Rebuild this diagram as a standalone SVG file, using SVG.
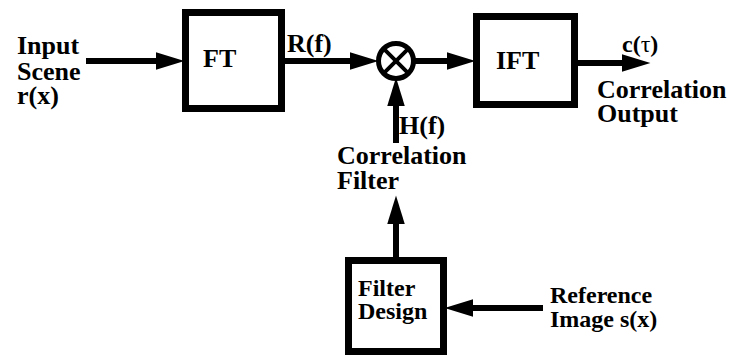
<svg xmlns="http://www.w3.org/2000/svg" width="733" height="356" viewBox="0 0 733 356" font-family="'Liberation Serif', 'Times New Roman', serif">
<style>
.box{fill:#fff;stroke:#000;stroke-width:7}
.ln{stroke:#000;stroke-width:6;fill:none}
.t{font-family:'Liberation Serif','Times New Roman',serif;font-weight:bold;font-size:26px;fill:#000}
.sm{font-size:24px}
</style>
<defs>
<marker id="ah" markerUnits="userSpaceOnUse" markerWidth="30" markerHeight="20" viewBox="0 -9 27 18" refX="4" refY="0" orient="auto">
<path d="M0,-8 L26,0 L0,8 z" fill="#000"/>
</marker>
</defs>
<rect width="733" height="356" fill="#fff"/>
<g id="connectors">
<line class="ln" x1="86" y1="61" x2="160" y2="61" marker-end="url(#ah)"/>
<line class="ln" x1="285" y1="61" x2="354" y2="61" marker-end="url(#ah)"/>
<line class="ln" x1="414" y1="61" x2="451" y2="61" marker-end="url(#ah)"/>
<line class="ln" x1="578" y1="63" x2="626" y2="63" marker-end="url(#ah)"/>
<line class="ln" x1="396" y1="143" x2="396" y2="102" marker-end="url(#ah)"/>
<line class="ln" x1="396" y1="257" x2="396" y2="220" marker-end="url(#ah)"/>
<line class="ln" x1="543" y1="308" x2="469" y2="308" marker-end="url(#ah)"/>
</g>
<g id="input-label" class="t">
<text x="17" y="54">Input</text>
<text x="17" y="80">Scene</text>
<text x="17" y="104">r(x)</text>
</g>
<g id="ft">
<rect class="box" x="185.5" y="12.5" width="96" height="96"/>
<text class="t" x="203" y="67">FT</text>
</g>
<g id="rf-label"><text class="t" x="287" y="52">R(f)</text></g>
<g id="multiplier">
<circle cx="396" cy="61" r="17.5" fill="#fff" stroke="#000" stroke-width="5"/>
<path d="M383.6,48.6 L408.4,73.4 M408.4,48.6 L383.6,73.4" stroke="#000" stroke-width="4"/>
</g>
<g id="hf-label"><text class="t" x="399" y="134">H(f)</text></g>
<g id="corr-filter-label" class="t">
<text x="337" y="164">Correlation</text>
<text x="337" y="189">Filter</text>
</g>
<g id="ift">
<rect class="box" x="476.5" y="16.5" width="98" height="88"/>
<text class="t" x="496" y="69">IFT</text>
</g>
<g id="output-label" class="t">
<text x="622" y="52" class="t sm">c(<tspan font-weight="normal">τ</tspan>)</text>
<text x="597" y="98">Correlation</text>
<text x="597" y="122">Output</text>
</g>
<g id="filter-design">
<rect class="box" x="348.5" y="260.5" width="95" height="91"/>
<text x="358" y="296" class="t sm">Filter</text>
<text x="358" y="319" class="t sm">Design</text>
</g>
<g id="reference-label">
<text x="550" y="303" class="t sm">Reference</text>
<text x="550" y="327" class="t sm">Image s(x)</text>
</g>
</svg>
